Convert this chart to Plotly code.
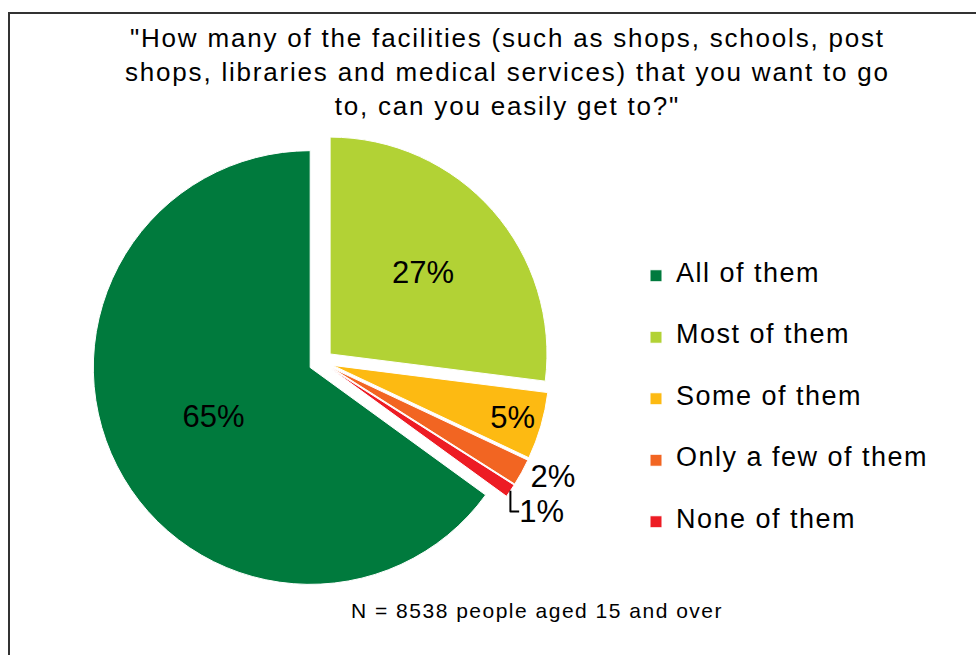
import plotly.graph_objects as go

categories = ["All of them", "Most of them", "Some of them", "Only a few of them", "None of them"]
values = [65, 27, 5, 2, 1]
colors = ["#007A3D", "#B2D235", "#FDBA12", "#F26522", "#ED1C24"]
text_positions = ["inside", "inside", "inside", "outside", "outside"]

title_lines = ['"How many of the facilities (such as shops, schools, post',
               'shops, libraries and medical services) that you want to go',
               'to, can you easily get to?"']
footnote = "N = 8538 people aged 15 and over"

FONT = "Liberation Sans, Arial, sans-serif"
W, H = 976, 655


def spaced(txt, ls, size=None):
    style = "letter-spacing:%spx" % ls
    if size:
        style += ";font-size:%dpx" % size
    return "<span style='%s'>%s</span>" % (style, txt)


title_text = "<br>".join(spaced(t, 1.8) for t in title_lines)
# legend labels padded with blank lines so legend rows are spaced like the original
legend_labels = ["<br>%s<br>" % spaced(c, 1.5, 27) for c in categories]

cx, cy, half = 321, 362, 229
fig = go.Figure(go.Pie(
    labels=legend_labels,
    values=values,
    sort=False,
    direction="clockwise",
    rotation=126,
    pull=[0.056] * len(values),
    marker=dict(colors=colors, line=dict(color="white", width=1)),
    textinfo="percent",
    textposition=text_positions,
    textfont=dict(family=FONT, size=31, color="black"),
    insidetextorientation="horizontal",
    domain=dict(x=[(cx - half) / W, (cx + half) / W],
                y=[(H - cy - half) / H, (H - cy + half) / H]),
    hoverinfo="percent",
))

fig.update_layout(
    width=W, height=H,
    margin=dict(l=0, r=0, t=0, b=0),
    paper_bgcolor="white",
    plot_bgcolor="white",
    font=dict(family=FONT, color="black"),
    uniformtext=dict(minsize=31, mode="show"),
    legend=dict(x=636 / W, xanchor="left", y=1 - 240 / H, yanchor="top",
                font=dict(family=FONT, size=15, color="black"),
                bgcolor="rgba(0,0,0,0)", itemclick=False),
    annotations=[
        dict(text=title_text, x=508 / W, y=1 - 21 / H, xref="paper", yref="paper",
             xanchor="center", yanchor="top", showarrow=False, align="center",
             font=dict(family=FONT, size=26, color="black")),
        dict(text=spaced(footnote, 1.5), x=537 / W, y=1 - 610 / H,
             xref="paper", yref="paper",
             xanchor="center", yanchor="middle", showarrow=False,
             font=dict(family=FONT, size=21, color="black")),
    ],
    shapes=[dict(type="rect", xref="paper", yref="paper",
                 x0=9 / W, x1=1.02, y0=-0.02, y1=1 - 13 / H,
                 line=dict(color="#333333", width=2), fillcolor="rgba(0,0,0,0)")],
)

fig.write_html("out.html")
